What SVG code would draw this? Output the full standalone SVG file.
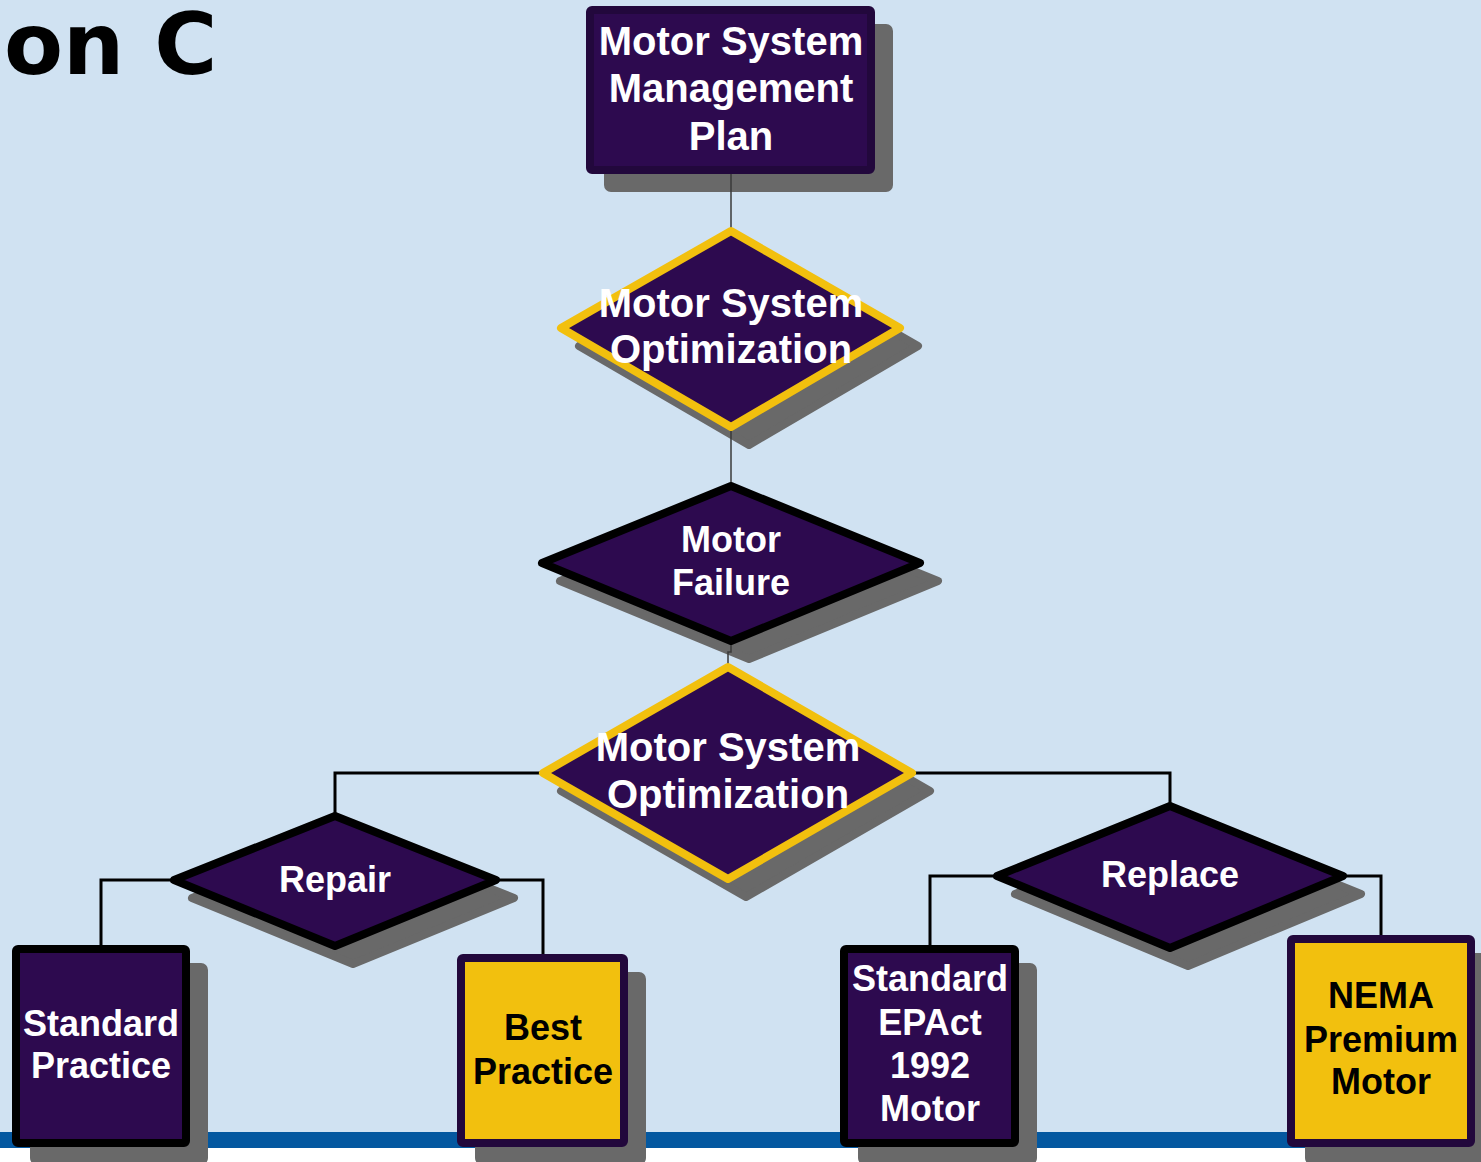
<svg xmlns="http://www.w3.org/2000/svg" width="1481" height="1162" viewBox="0 0 1481 1162">
<style>
.shadow{fill:#696969;stroke:#696969;stroke-width:8;stroke-linejoin:round}
.purple{fill:#2D0A4F}
.yellow{fill:#F2C00E}
.bk{stroke:#000000;stroke-width:8;stroke-linejoin:round}
.yb{stroke:#F2C00E;stroke-width:8;stroke-linejoin:round}
.pb{stroke:#22083C;stroke-width:8;stroke-linejoin:round}
.wt{font-family:"Liberation Sans",Arial,sans-serif;font-weight:bold;fill:#FFFFFF;text-anchor:middle}
.bt{font-family:"Liberation Sans",Arial,sans-serif;font-weight:bold;fill:#000000;text-anchor:middle}
.thin{fill:none;stroke:#3A3A3A;stroke-width:1.5}
.conn{fill:none;stroke:#000000;stroke-width:3}
</style>
<rect x="0" y="0" width="1481" height="1162" fill="#D0E2F2"/>
<rect x="0" y="1132" width="1481" height="16" fill="#0458A0"/>
<rect x="0" y="1148" width="1481" height="14" fill="#FFFFFF"/>
<text x="4" y="74" font-family="'DejaVu Sans',sans-serif" font-weight="bold" font-size="86" fill="#000000">on C</text>
<g id="shadows">
<rect class="shadow" x="608" y="28" width="281" height="160" rx="3"/>
<polygon class="shadow" points="749,249 918,346 749,445 579,346"/>
<polygon class="shadow" points="749,504 938,581 749,659 560,581"/>
<polygon class="shadow" points="746,685 930,791 746,897 561,791"/>
<polygon class="shadow" points="353,834 514,898 353,964 192,898"/>
<polygon class="shadow" points="1188,824 1361,894 1188,966 1015,894"/>
<rect class="shadow" x="34" y="967" width="170" height="194" rx="3"/>
<rect class="shadow" x="479" y="976" width="163" height="185" rx="3"/>
<rect class="shadow" x="862" y="967" width="171" height="194" rx="3"/>
<rect class="shadow" x="1309" y="957" width="180" height="204" rx="3"/>
</g>
<g id="connectors">
<path class="thin" d="M731 170 V231"/>
<path class="thin" d="M731 427 V486"/>
<path class="thin" d="M731 641 V652 H728 V667"/>
<path class="conn" d="M543 773 H335 V816"/>
<path class="conn" d="M912 773 H1170 V806"/>
<path class="conn" d="M174 880 H101 V949"/>
<path class="conn" d="M496 880 H543 V958"/>
<path class="conn" d="M997 876 H930 V949"/>
<path class="conn" d="M1343 876 H1381 V939"/>
</g>
<g id="plan">
<rect class="purple pb" x="590" y="10" width="281" height="160" rx="2"/>
<text class="wt" font-size="40"><tspan x="731" y="55">Motor System</tspan><tspan x="731" y="102">Management</tspan><tspan x="731" y="150">Plan</tspan></text>
</g>
<g id="optimization1">
<polygon class="purple yb" points="731,231 900,328 731,427 561,328"/>
<text class="wt" font-size="40"><tspan x="731" y="317">Motor System</tspan><tspan x="731" y="363">Optimization</tspan></text>
</g>
<g id="failure">
<polygon class="purple bk" points="731,486 920,563 731,641 542,563"/>
<text class="wt" font-size="36"><tspan x="731" y="552">Motor</tspan><tspan x="731" y="595">Failure</tspan></text>
</g>
<g id="optimization2">
<polygon class="purple yb" points="728,667 912,773 728,879 543,773"/>
<text class="wt" font-size="40"><tspan x="728" y="761">Motor System</tspan><tspan x="728" y="808">Optimization</tspan></text>
</g>
<g id="repair">
<polygon class="purple bk" points="335,816 496,880 335,946 174,880"/>
<text class="wt" font-size="36" x="335" y="892">Repair</text>
</g>
<g id="replace">
<polygon class="purple bk" points="1170,806 1343,876 1170,948 997,876"/>
<text class="wt" font-size="36" x="1170" y="887">Replace</text>
</g>
<g id="standard-practice">
<rect class="purple bk" x="16" y="949" width="170" height="194" rx="2"/>
<text class="wt" font-size="36"><tspan x="101" y="1036">Standard</tspan><tspan x="101" y="1078">Practice</tspan></text>
</g>
<g id="best-practice">
<rect class="yellow pb" x="461" y="958" width="163" height="185" rx="2"/>
<text class="bt" font-size="36"><tspan x="543" y="1040">Best</tspan><tspan x="543" y="1084">Practice</tspan></text>
</g>
<g id="epact">
<rect class="purple bk" x="844" y="949" width="171" height="194" rx="2"/>
<text class="wt" font-size="36"><tspan x="930" y="991">Standard</tspan><tspan x="930" y="1035">EPAct</tspan><tspan x="930" y="1078">1992</tspan><tspan x="930" y="1121">Motor</tspan></text>
</g>
<g id="nema">
<rect class="yellow pb" x="1291" y="939" width="180" height="204" rx="2"/>
<text class="bt" font-size="36"><tspan x="1381" y="1008">NEMA</tspan><tspan x="1381" y="1052">Premium</tspan><tspan x="1381" y="1094">Motor</tspan></text>
</g>
</svg>
